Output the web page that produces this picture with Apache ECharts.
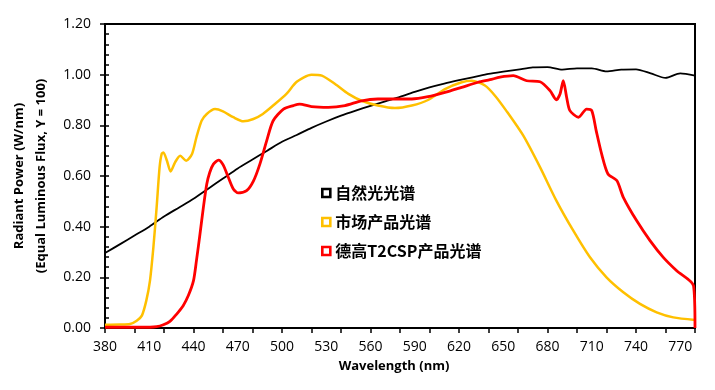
<!DOCTYPE html>
<html>
<head>
<meta charset="utf-8">
<script src="https://cdn.jsdelivr.net/npm/echarts@6/dist/echarts.min.js"></script>
<style>html,body{margin:0;padding:0;background:#fff}#c{width:715px;height:390px}</style>
</head>
<body>
<div id="c"></div>
<script>
// Series names (legend)
const seriesNames = ['自然光光谱', '市场产品光谱', '德高T2CSP产品光谱'];

// Natural light spectrum
const naturalNm  = [380,390,400,410,420,430,440,450,460,470,480,490,500,510,520,530,540,550,560,570,580,590,600,610,620,630,640,650,660,670,680,690,700,710,720,730,740,750,760,770,780];
const naturalVal = [0.296,0.33,0.365,0.40,0.44,0.475,0.51,0.55,0.59,0.63,0.665,0.70,0.735,0.762,0.79,0.815,0.838,0.858,0.877,0.895,0.912,0.932,0.95,0.965,0.978,0.99,1.003,1.012,1.02,1.029,1.03,1.02,1.025,1.025,1.013,1.02,1.021,1.005,0.987,1.005,0.996];

// Market product spectrum
const marketNm  = [380,390,397,401.5,405,408,410.5,412.8,415,417,418.4,419.6,422,424.5,427.5,431,435,439,442,445.5,449,454.6,460,467,473.8,480.6,487,494,503,510,520,527,536,545,554,565,576.6,588,599,610.5,621.8,628.6,637.6,644.4,652,663.6,675,686,697.5,708.8,720,731.4,742.7,754,765.3,780];
const marketVal = [0.013,0.014,0.016,0.029,0.049,0.108,0.187,0.318,0.476,0.634,0.687,0.693,0.66,0.618,0.654,0.68,0.66,0.687,0.753,0.818,0.845,0.864,0.855,0.832,0.816,0.825,0.845,0.878,0.924,0.972,1.0,0.996,0.963,0.924,0.897,0.878,0.868,0.878,0.9,0.943,0.97,0.976,0.957,0.917,0.858,0.759,0.634,0.503,0.384,0.279,0.2,0.141,0.095,0.062,0.042,0.032];

// 德高 T2CSP product spectrum
const t2cspNm  = [380,395,410.5,415,419.6,424,428.6,433,436.5,440,442,444.4,446.7,449,451,453.5,457,460,463.6,467,470.4,476,480.6,485,489.6,494,501,507.7,512,520,531.4,542.7,554,565,576.6,588,599,610.5,621.8,633,641,647.8,656.8,665.9,674.9,681.7,686,688.5,690.7,693,695.2,701,706.5,710,713,716.7,721,727,731.4,740.4,749.5,758.5,767.6,779,780];
const t2cspVal = [0.003,0.003,0.003,0.005,0.013,0.026,0.055,0.088,0.128,0.187,0.266,0.371,0.476,0.568,0.614,0.647,0.663,0.645,0.595,0.549,0.533,0.542,0.58,0.647,0.739,0.818,0.864,0.878,0.884,0.874,0.871,0.878,0.897,0.904,0.904,0.904,0.913,0.93,0.95,0.97,0.98,0.99,0.996,0.976,0.972,0.937,0.901,0.924,0.976,0.91,0.858,0.832,0.864,0.858,0.779,0.687,0.608,0.582,0.516,0.424,0.345,0.279,0.226,0.167,0];

const xMin = 380, xMax = 780, xLabelStep = 30, xTickStep = 20;
const yMin = 0, yMax = 1.2, yStep = 0.2, yMinorStep = 0.04;

const pair = (xs, ys) => xs.map((x, i) => [x, ys[i]]);
const colors = ['#000000', '#FFC000', '#FF0000'];
const widths = [1.8, 2.5, 2.8];
const dataSets = [pair(naturalNm, naturalVal), pair(marketNm, marketVal), pair(t2cspNm, t2cspVal)];

const chart = echarts.init(document.getElementById('c'), null, {renderer: 'canvas'});
const font = '"Open Sans", "Liberation Sans", sans-serif';
chart.setOption({
  animation: false,
  backgroundColor: '#fff',
  grid: {left: 105, right: 20, top: 24, bottom: 62, show: true, borderColor: '#000', borderWidth: 2, backgroundColor: 'transparent'},
  legend: {
    orient: 'vertical', left: 321, top: 184, padding: 0, itemGap: 11,
    itemWidth: 8, itemHeight: 8, selectedMode: false,
    textStyle: {fontFamily: '"Noto Sans CJK SC", sans-serif', fontWeight: 'bold', fontSize: 16, color: '#000', lineHeight: 18},
    data: seriesNames.map((n, i) => ({name: n, icon: 'rect', itemStyle: {color: '#fff', borderColor: colors[i], borderWidth: 2.6}}))
  },
  xAxis: [{
    type: 'value', min: xMin, max: xMax, interval: xLabelStep,
    name: 'Wavelength (nm)', nameLocation: 'middle', nameGap: 32,
    nameTextStyle: {fontFamily: font, fontWeight: 'bold', fontSize: 13, color: '#000', padding: [0, 12, 0, 0]},
    axisLine: {show: true, lineStyle: {color: '#000', width: 2}},
    axisTick: {show: false},
    axisLabel: {showMaxLabel: false, margin: 12, fontFamily: font, fontSize: 14, color: '#000'},
    splitLine: {show: false}
  }, {
    type: 'value', min: xMin, max: xMax, interval: xTickStep, position: 'bottom',
    axisLine: {show: false}, axisLabel: {show: false}, splitLine: {show: false},
    axisTick: {show: true, length: 5, lineStyle: {color: '#000', width: 1.5}}
  }],
  yAxis: [{
    type: 'value', min: yMin, max: yMax, interval: yStep,
    name: 'Radiant Power (W/nm)\n(Equal Luminous Flux, Y = 100)', nameLocation: 'middle', nameGap: 52, nameRotate: 90,
    nameTextStyle: {fontFamily: font, fontWeight: 'bold', fontSize: 13, color: '#000', lineHeight: 22, align: 'center'},
    axisLine: {show: true, lineStyle: {color: '#000', width: 2}},
    axisTick: {show: true, length: 5, lineStyle: {color: '#000', width: 1.5}},
    axisLabel: {margin: 14, fontFamily: font, fontSize: 14, color: '#000', formatter: v => v.toFixed(2)},
    splitLine: {show: false}
  }, {
    type: 'value', min: yMin, max: yMax, interval: yMinorStep, position: 'left',
    axisLine: {show: false}, axisLabel: {show: false}, splitLine: {show: false},
    axisTick: {show: true, inside: true, length: 4, lineStyle: {color: '#000', width: 1.5}}
  }],
  series: seriesNames.map((n, i) => ({
    name: n, type: 'line', xAxisIndex: 0, yAxisIndex: 0,
    data: dataSets[i], showSymbol: false, symbol: 'none',
    smooth: 0.25,
    lineStyle: {color: colors[i], width: widths[i], join: 'round'},
    itemStyle: {color: colors[i]}
  }))
});
</script>
</body>
</html>
